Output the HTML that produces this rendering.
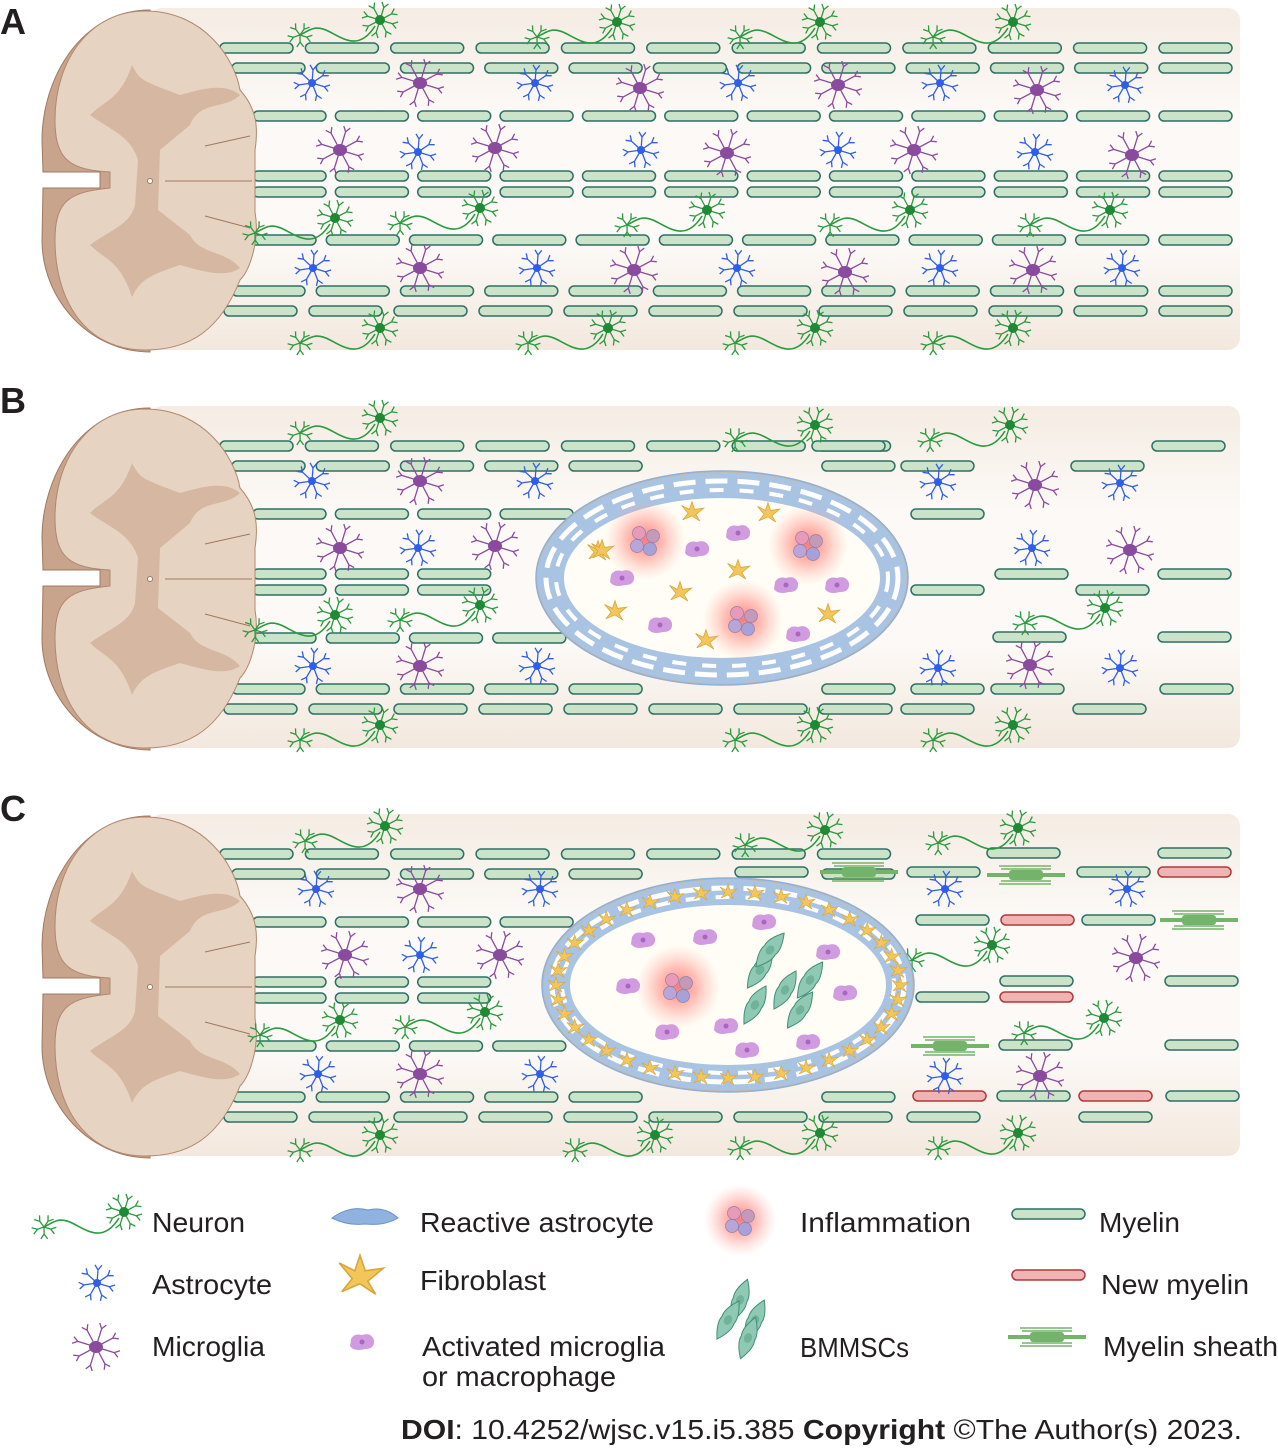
<!DOCTYPE html>
<html><head><meta charset="utf-8"><style>
body{margin:0;background:#fff;width:1278px;height:1450px;overflow:hidden}
svg{display:block}
text{font-family:"Liberation Sans","DejaVu Sans",sans-serif;fill:#231f20}
</style></head><body>
<svg id="s" width="1278" height="1450" xmlns="http://www.w3.org/2000/svg">
<defs>
<linearGradient id="bg" x1="0" y1="0" x2="0" y2="1">
<stop offset="0" stop-color="#f5ece3"/><stop offset="0.3" stop-color="#fcf9f6"/><stop offset="0.7" stop-color="#fcf9f6"/><stop offset="1" stop-color="#f3e8de"/></linearGradient>
<radialGradient id="inf"><stop offset="0" stop-color="#ff6b6b" stop-opacity="0.9"/><stop offset="0.5" stop-color="#ff8a80" stop-opacity="0.5"/><stop offset="1" stop-color="#ffb0a8" stop-opacity="0"/></radialGradient>
</defs>
<g id="g"></g>
<text x="0" y="34" style="font-size:36px;font-weight:bold">A</text>
<text x="0" y="413" style="font-size:36px;font-weight:bold">B</text>
<text x="0" y="821" style="font-size:36px;font-weight:bold">C</text>
<g style="font-size:28px">
<text x="152" y="1232" textLength="93" lengthAdjust="spacingAndGlyphs">Neuron</text>
<text x="152" y="1294" textLength="120" lengthAdjust="spacingAndGlyphs">Astrocyte</text>
<text x="152" y="1356" textLength="113" lengthAdjust="spacingAndGlyphs">Microglia</text>
<text x="420" y="1232" textLength="234" lengthAdjust="spacingAndGlyphs">Reactive astrocyte</text>
<text x="420" y="1290" textLength="126" lengthAdjust="spacingAndGlyphs">Fibroblast</text>
<text x="422" y="1356" textLength="243" lengthAdjust="spacingAndGlyphs">Activated microglia</text>
<text x="422" y="1386" textLength="194" lengthAdjust="spacingAndGlyphs">or macrophage</text>
<text x="800" y="1232" textLength="171" lengthAdjust="spacingAndGlyphs">Inflammation</text>
<text x="800" y="1357" textLength="109" lengthAdjust="spacingAndGlyphs">BMMSCs</text>
<text x="1099" y="1232" textLength="81" lengthAdjust="spacingAndGlyphs">Myelin</text>
<text x="1101" y="1294" textLength="148" lengthAdjust="spacingAndGlyphs">New myelin</text>
<text x="1103" y="1356" textLength="175" lengthAdjust="spacingAndGlyphs">Myelin sheath</text>
<text x="401" y="1439" textLength="841" lengthAdjust="spacingAndGlyphs"><tspan font-weight="bold">DOI</tspan>: 10.4252/wjsc.v15.i5.385 <tspan font-weight="bold">Copyright</tspan> ©The Author(s) 2023.</text>
</g>
</svg>
<script>
var g=document.getElementById('g'),h='';
function bar(x,y,w,red){h+='<rect x="'+x.toFixed(1)+'" y="'+(y-5)+'" width="'+(w||73)+'" height="10" rx="5" fill="'+(red?'#f0b4b4':'#cbe4c9')+'" stroke="'+(red?'#b03a3a':'#2f6f66')+'" stroke-width="1.5"/>';}
function sheath(x,y){h+='<g stroke="#74b36a" fill="none"><line x1="'+x+'" y1="'+y+'" x2="'+(x+78)+'" y2="'+y+'" stroke-width="4"/><rect x="'+(x+22)+'" y="'+(y-5)+'" width="34" height="10" rx="3" fill="#74b36a" stroke="none"/><path d="M'+(x+14)+' '+(y-6)+'h50M'+(x+14)+' '+(y+6)+'h50M'+(x+12)+' '+(y-9)+'h52M'+(x+12)+' '+(y+9)+'h52" stroke-width="1.5"/></g>';}
function rays(x,y,c,n,r){var s='';for(var i=0;i<n;i++){var a=i*2*Math.PI/n+0.3;var ex=x+r*Math.cos(a),ey=y+r*Math.sin(a);s+='M'+x+' '+y+'L'+ex.toFixed(1)+' '+ey.toFixed(1);var b1=a+0.6,b2=a-0.6;s+='M'+ex.toFixed(1)+' '+ey.toFixed(1)+'l'+(6*Math.cos(b1)).toFixed(1)+' '+(6*Math.sin(b1)).toFixed(1)+'M'+ex.toFixed(1)+' '+ey.toFixed(1)+'l'+(6*Math.cos(b2)).toFixed(1)+' '+(6*Math.sin(b2)).toFixed(1);}return '<path d="'+s+'" stroke="'+c+'" stroke-width="1.3" fill="none"/>';}
function astro(x,y){h+=rays(x,y,'#2f5fe8',7,13)+'<circle cx="'+x+'" cy="'+y+'" r="4" fill="#2f5fe8"/>';}
function micro(x,y){h+=rays(x,y,'#8a4a9e',8,19)+'<ellipse cx="'+x+'" cy="'+y+'" rx="7" ry="6" fill="#8a4a9e"/>';}
function neuron(x,y){h+=rays(x,y,'#2a9a3e',8,13)+'<circle cx="'+x+'" cy="'+y+'" r="5" fill="#1f8a36"/><path d="M'+(x-5)+' '+(y+6)+'C'+(x-20)+' '+(y+30)+' '+(x-35)+' '+(y+20)+' '+(x-50)+' '+(y+12)+'S'+(x-70)+' '+(y+10)+' '+(x-80)+' '+(y+15)+'" stroke="#2a9a3e" stroke-width="1.6" fill="none"/>'+rays(x-80,y+15,'#2a9a3e',5,7);}
function cord(oy){
h+='<path d="M150 '+(10+oy)+'C80 '+(10+oy)+' 42 '+(80+oy)+' 42 '+(140+oy)+'L43 '+(172+oy)+'H100V'+(188+oy)+'H43L42 '+(240+oy)+'C42 '+(300+oy)+' 90 '+(352+oy)+' 150 '+(352+oy)+'Z" fill="#c8a48c" stroke="#a07860"/>';
h+='<path d="M145 '+(11+oy)+'C205 '+(11+oy)+' 235 '+(60+oy)+' 240 '+(90+oy)+'C258 '+(110+oy)+' 258 '+(130+oy)+' 255 '+(150+oy)+'L255 '+(212+oy)+'C260 '+(240+oy)+' 250 '+(270+oy)+' 240 '+(280+oy)+'C220 '+(330+oy)+' 190 '+(350+oy)+' 145 '+(350+oy)+'C85 '+(350+oy)+' 55 '+(300+oy)+' 55 '+(240+oy)+'C55 '+(200+oy)+' 70 '+(192+oy)+' 110 '+(188+oy)+'V'+(172+oy)+'C70 '+(170+oy)+' 55 '+(160+oy)+' 55 '+(120+oy)+'C55 '+(60+oy)+' 90 '+(11+oy)+' 145 '+(11+oy)+'Z" fill="#e7d3c2" stroke="#b08870"/>';
h+='<path d="M132 '+(65+oy)+'C140 '+(80+oy)+' 140 '+(80+oy)+' 180 '+(95+oy)+'C205 '+(88+oy)+' 225 '+(83+oy)+' 240 '+(95+oy)+'C225 '+(110+oy)+' 200 '+(100+oy)+' 190 '+(125+oy)+'L160 '+(150+oy)+'L158 '+(210+oy)+'L190 '+(235+oy)+'C200 '+(255+oy)+' 225 '+(250+oy)+' 240 '+(268+oy)+'C225 '+(278+oy)+' 205 '+(272+oy)+' 180 '+(265+oy)+'C150 '+(275+oy)+' 140 '+(280+oy)+' 132 '+(297+oy)+'C120 '+(260+oy)+' 105 '+(260+oy)+' 90 '+(245+oy)+'C110 '+(230+oy)+' 130 '+(225+oy)+' 135 '+(205+oy)+'L138 '+(160+oy)+'C130 '+(135+oy)+' 110 '+(130+oy)+' 90 '+(115+oy)+'C105 '+(100+oy)+' 120 '+(100+oy)+' 132 '+(65+oy)+'Z" fill="#d5b7a2"/>';
h+='<circle cx="150" cy="'+(181+oy)+'" r="2.5" fill="#fff" stroke="#a07860"/><path d="M165 '+(181+oy)+'H252M205 '+(146+oy)+'L250 '+(136+oy)+'M205 '+(216+oy)+'L250 '+(228+oy)+'" stroke="#a07860" stroke-width="1"/>';}
var rows=[[48,220],[68,232],[116,253],[176,253],[192,253],[240,243],[291,232],[311,224]];
function panel(oy,type){
h+='<rect x="150" y="'+(8+oy)+'" width="1090" height="342" rx="12" fill="url(#bg)"/>';
var ex=(type?722+(type==2?6:0):0),ey=(type==2?985:578),erx=200,ery=118;
rows.forEach(function(r){var y=r[0]+oy,st=(1159-r[1])/11;for(var i=0;i<12;i++){var x=r[1]+i*st;
 if(type){var cx=x+36;if(cx>875)continue;var dx=(cx-ex)/erx,dy=(y-ey)/ery;if(dx*dx+dy*dy<1)continue;}
 bar(x,y);}});
cord(oy);
}
panel(0,0);panel(398,1);panel(806,2);
[[446,1152],[466,901],[466,1071],[514,911],[574,995],[574,1158],[590,911],[590,1076],[637,993],[637,1158],[689,911],[689,991],[689,1160],[709,901],[709,1073],[446,812]].forEach(function(b){bar(b[1],b[0]);});
[[853,987],[853,1158],[872,907],[872,1077],[920,916],[920,1082],[981,1000],[981,1165],[997,916],[1045,999],[1045,1165],[1096,997],[1096,1166],[1117,907],[1117,1079],[872,735]].forEach(function(b){bar(b[1],b[0]);});
[[872,1158],[920,1001],[997,1000],[1096,913],[1096,1079]].forEach(function(b){bar(b[1],b[0],73,1);});
sheath(820,872);sheath(987,875);sheath(1160,920);sheath(911,1046);
var N=[[380,20],[617,22],[820,22],[1013,22],[335,218],[480,208],[707,210],[910,210],[1110,210],[380,328],[608,328],[815,328],[1013,328]];
var As=[[312,83],[535,83],[738,83],[940,83],[1125,85],[418,152],[641,150],[838,150],[1035,152],[313,268],[537,268],[737,268],[940,268],[1122,268]];
var M=[[420,83],[640,88],[838,85],[1037,90],[340,150],[495,148],[727,153],[914,150],[1132,155],[420,268],[634,270],[845,272],[1033,270]];
N.forEach(function(p){neuron(p[0],p[1]);});As.forEach(function(p){astro(p[0],p[1]);});M.forEach(function(p){micro(p[0],p[1]);});
[[380,418],[815,425],[1010,425],[335,615],[480,605],[1105,608],[380,725],[815,725],[1013,725]].forEach(function(p){neuron(p[0],p[1]);});
[[312,481],[535,481],[938,482],[1120,483],[418,548],[1032,548],[313,666],[537,666],[938,668],[1120,668]].forEach(function(p){astro(p[0],p[1]);});
[[420,481],[1035,485],[340,548],[495,546],[1130,550],[420,666],[1030,665]].forEach(function(p){micro(p[0],p[1]);});
[[385,826],[825,830],[1018,828],[340,1020],[485,1012],[992,945],[1104,1018],[380,1135],[655,1135],[820,1133],[1018,1133]].forEach(function(p){neuron(p[0],p[1]);});
[[316,889],[540,889],[945,889],[1127,889],[420,955],[318,1074],[540,1074],[945,1076]].forEach(function(p){astro(p[0],p[1]);});
[[420,889],[345,955],[500,955],[1136,958],[420,1074],[1040,1076]].forEach(function(p){micro(p[0],p[1]);});
function lesion(cx,cy,fib){
h+='<ellipse cx="'+cx+'" cy="'+cy+'" rx="185" ry="106" fill="#a9c3e2" stroke="#c9b8a0" stroke-width="1"/>';
h+='<ellipse cx="'+cx+'" cy="'+cy+'" rx="176" ry="97" fill="none" stroke="#fff" stroke-width="5" stroke-dasharray="22 10"/>';
h+='<ellipse cx="'+cx+'" cy="'+cy+'" rx="186" ry="107" fill="none" stroke="#8fb0d8" stroke-width="1.5"/>';
h+='<ellipse cx="'+cx+'" cy="'+cy+'" rx="166" ry="88" fill="none" stroke="#fff" stroke-width="4" stroke-dasharray="14 16"/>';
h+='<ellipse cx="'+cx+'" cy="'+cy+'" rx="158" ry="80" fill="#fffdf5"/>';
if(fib){for(var i=0;i<40;i++){var a=i*2*Math.PI/40;star(cx+172*Math.cos(a),cy+93*Math.sin(a));}}}
function star(x,y,s){s=s||1;h+='<g transform="translate('+x+' '+y+') scale('+s+')"><path d="M-8 -5L-2 -2L0 -8L2 -2L9 -3L3 2L6 7L0 3L-7 6L-3 1Z" fill="#f3c65a" stroke="#d9a53a" stroke-width="0.6"/></g>';}
function blob(x,y){h+='<path d="M'+(x-11)+' '+(y-3)+'Q'+(x-8)+' '+(y-9)+' '+x+' '+(y-7)+'Q'+(x+9)+' '+(y-10)+' '+(x+12)+' '+(y-2)+'Q'+(x+13)+' '+(y+7)+' '+(x+3)+' '+(y+7)+'Q'+(x-8)+' '+(y+10)+' '+(x-12)+' '+(y+4)+'Z" fill="#d19be0"/><circle cx="'+x+'" cy="'+y+'" r="2.5" fill="#a866c0"/>';}
function infl(x,y,r){h+='<circle cx="'+x+'" cy="'+y+'" r="'+(r||40)+'" fill="url(#inf)"/>';[[-6,-7,'#e89ab8'],[8,-4,'#c59ab8'],[-8,6,'#b8a6d8'],[5,9,'#a8a0d8']].forEach(function(c){h+='<circle cx="'+(x+c[0])+'" cy="'+(y+c[1])+'" r="6.5" fill="'+c[2]+'" stroke="#9080a8" stroke-width="0.7"/>';});}
function msc(x,y,a){h+='<g transform="translate('+x+' '+y+') rotate('+a+')"><path d="M-22 0Q-8 -9 0 -7Q8 -9 22 0Q8 9 0 7Q-8 9 -22 0Z" fill="#8fc9b4" stroke="#3f8f78" stroke-width="1"/><ellipse cx="0" cy="0" rx="5" ry="4" fill="#6fb39b"/></g>';}
lesion(722,578,0);
[[692,512],[768,513],[598,551],[738,570],[680,592],[615,611],[828,614],[706,640],[602,550]].forEach(function(p){star(p[0],p[1],1.3);});
[[738,533],[697,549],[622,578],[786,585],[837,585],[660,625],[798,634]].forEach(function(p){blob(p[0],p[1]);});
infl(645,540);infl(808,545);infl(743,620);
lesion(728,985,1);
[[643,940],[705,937],[764,922],[828,952],[628,986],[726,1026],[667,1032],[808,1042],[747,1050],[845,993]].forEach(function(p){blob(p[0],p[1]);});
infl(678,987,42);
[[760,970,-55],[785,990,-60],[755,1005,-60],[810,980,-55],[800,1010,-55],[770,950,-50]].forEach(function(p){msc(p[0],p[1],p[2]);});
neuron(124,1212);astro(97,1283);micro(96,1347);
h+='<path d="M332 1218Q350 1205 368 1210Q385 1206 398 1218Q385 1226 365 1224Q348 1226 332 1218Z" fill="#8fb3de" stroke="#6a92c8"/>';
star(360,1276,2.6);
blob(362,1342);
infl(740,1220,36);
msc(740,1300,-70);msc(755,1320,-65);msc(728,1320,-60);msc(748,1338,-70);
bar(1012,1214,73);bar(1012,1275,73,1);sheath(1008,1337);
g.innerHTML=h;
</script>
</body></html>
